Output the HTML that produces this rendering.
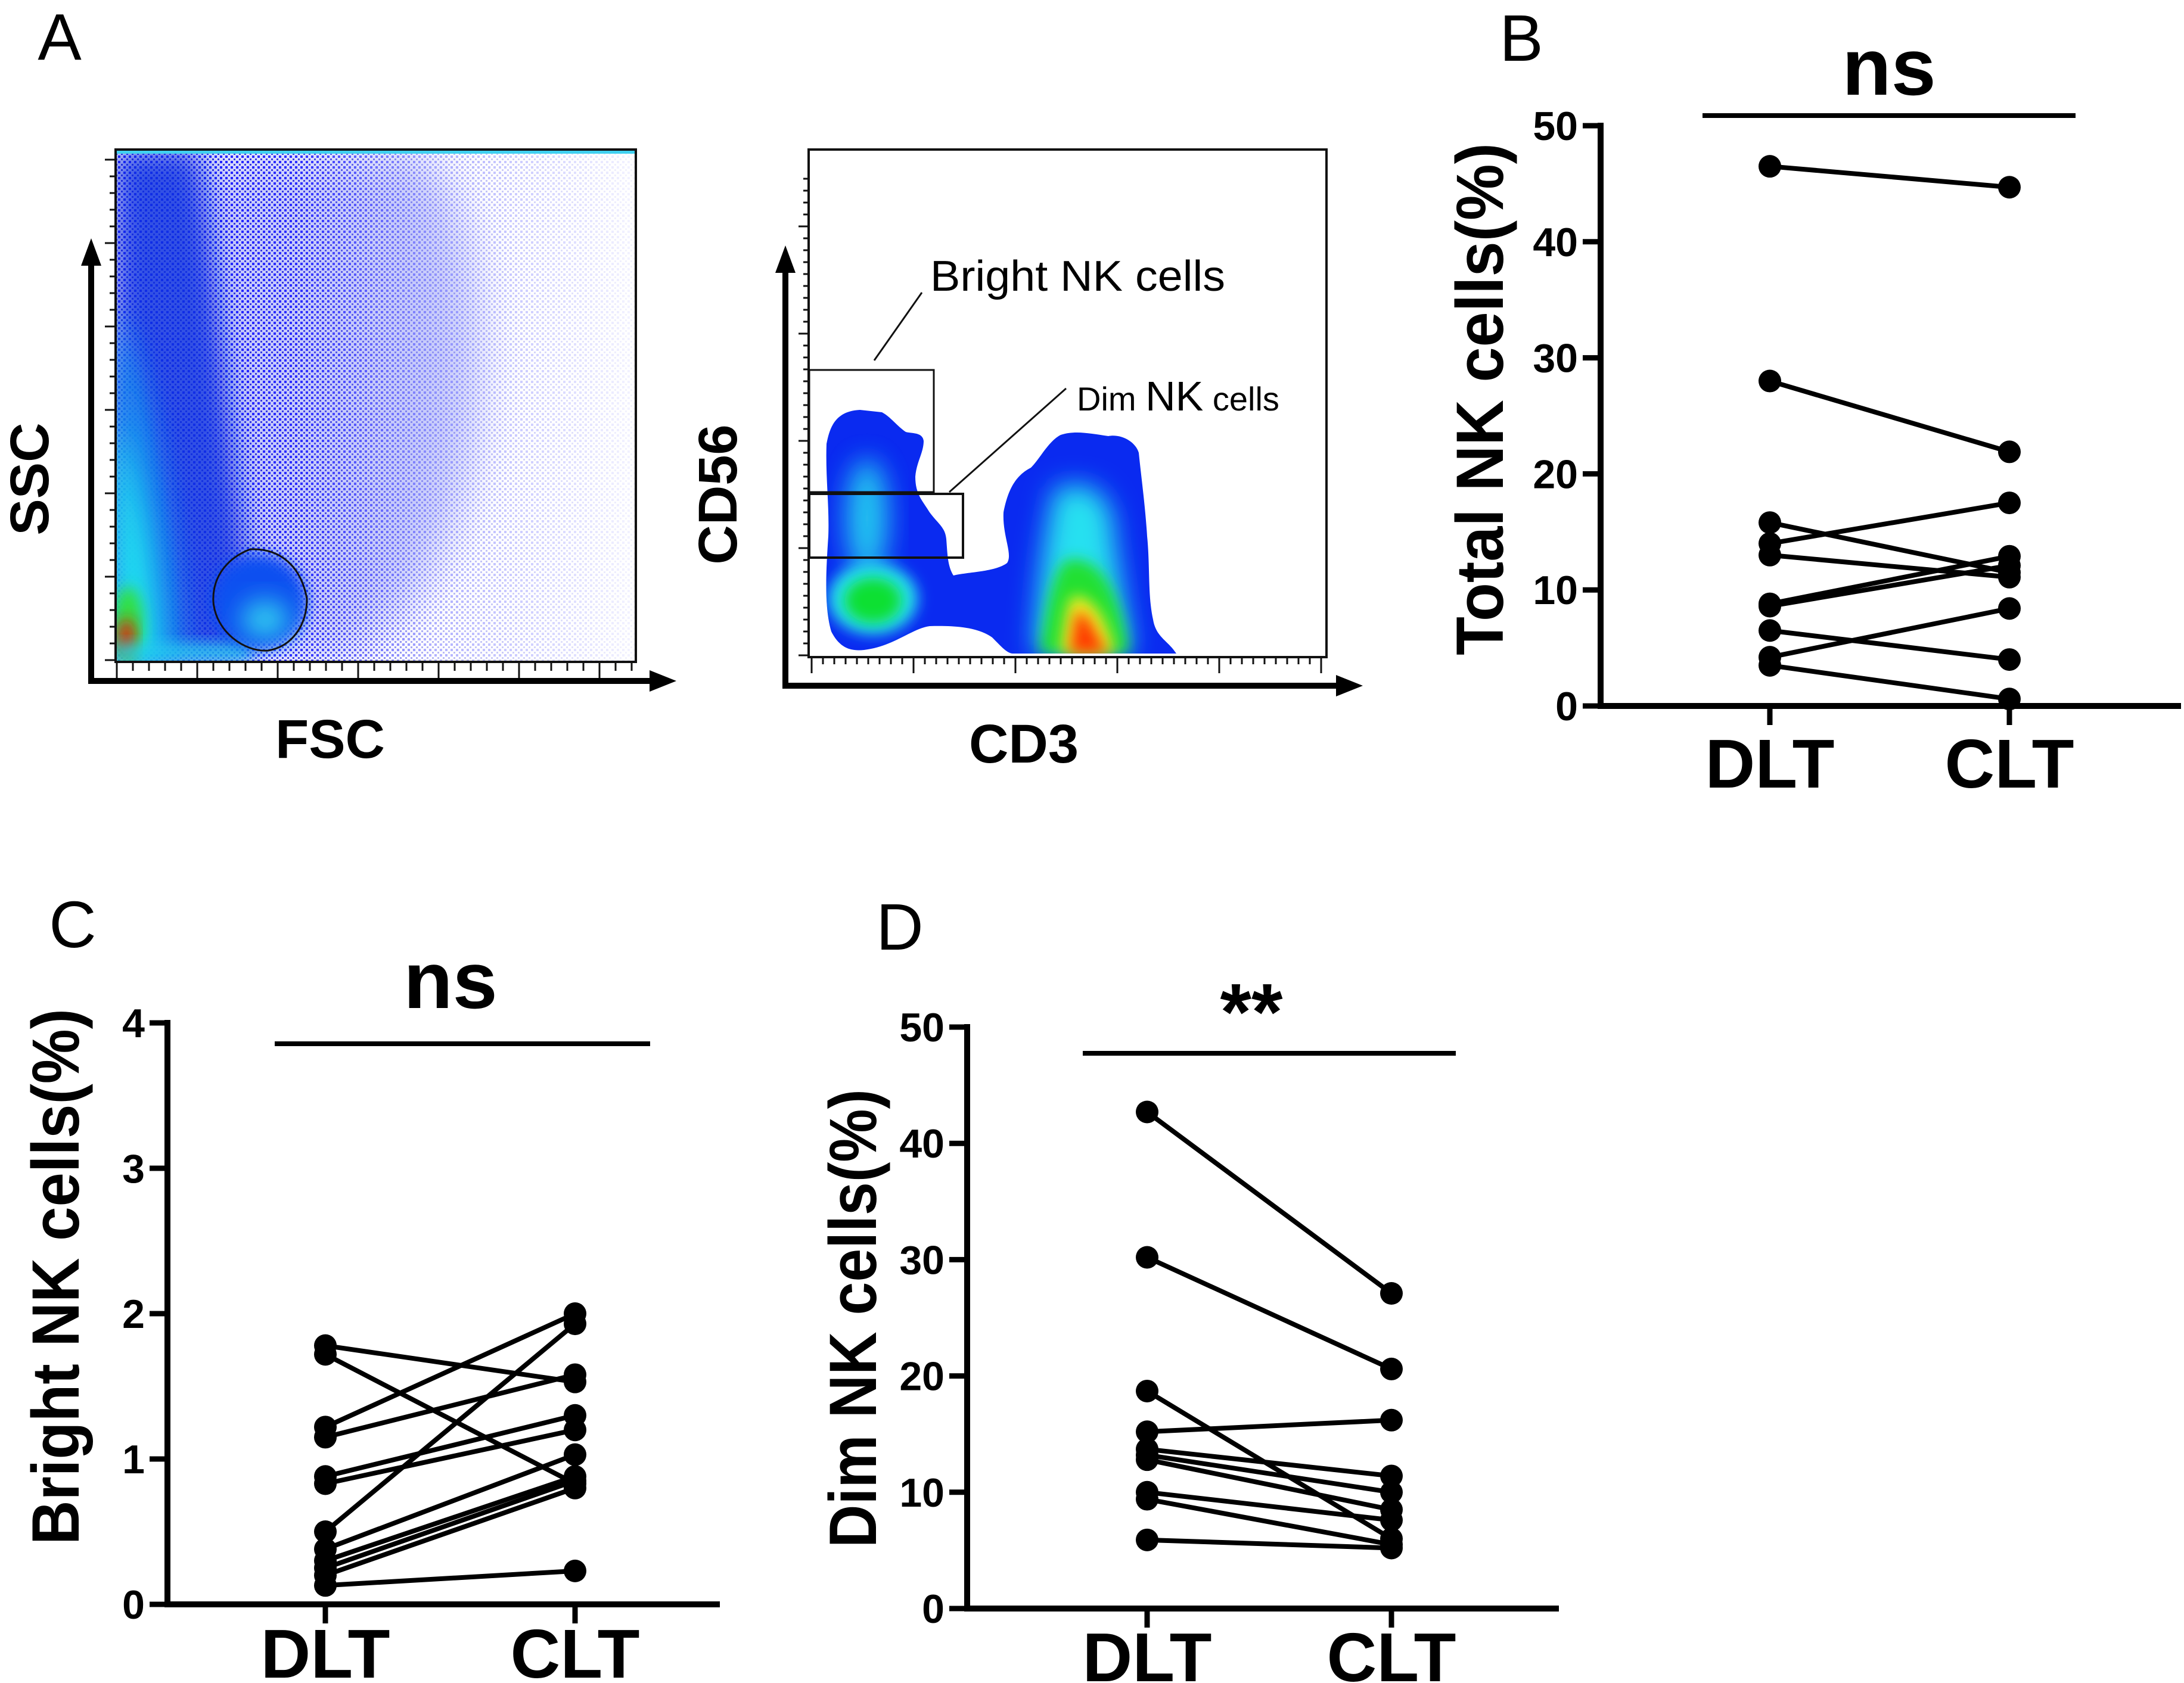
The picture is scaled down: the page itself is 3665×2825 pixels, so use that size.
<!DOCTYPE html>
<html><head><meta charset="utf-8"><style>
html,body{margin:0;padding:0;background:#fff;}
svg{display:block;font-family:"Liberation Sans",Arial,sans-serif;}
</style></head><body>
<svg id="fig" width="3665" height="2825" viewBox="0 0 3665 2825" xmlns="http://www.w3.org/2000/svg">
<defs>
  <filter id="blur20" x="-50%" y="-50%" width="200%" height="200%"><feGaussianBlur stdDeviation="22"/></filter>
  <filter id="blur10" x="-50%" y="-50%" width="200%" height="200%"><feGaussianBlur stdDeviation="12"/></filter>
  <filter id="blur40" x="-50%" y="-50%" width="200%" height="200%"><feGaussianBlur stdDeviation="40"/></filter>
  <pattern id="dots" width="9" height="9" patternUnits="userSpaceOnUse">
    <rect x="0" y="0" width="4" height="4" fill="#1a1aff"/>
    <rect x="5" y="5" width="3" height="3" fill="#2a2ae0"/>
  </pattern>
  <linearGradient id="fadeX" x1="0" y1="0" x2="1" y2="0">
    <stop offset="0" stop-color="#fff" stop-opacity="1"/>
    <stop offset="0.35" stop-color="#fff" stop-opacity="0.9"/>
    <stop offset="0.6" stop-color="#fff" stop-opacity="0.35"/>
    <stop offset="1" stop-color="#fff" stop-opacity="0.05"/>
  </linearGradient>
  <mask id="scatterMask">
    <rect x="194" y="250" width="874" height="862" fill="url(#fadeX)"/>
  </mask>
  <clipPath id="box1clip"><rect x="194" y="252" width="872" height="858"/></clipPath>
  <clipPath id="blobClip">
    <path d="M1443 688 C1400 690 1392 720 1387 745 C1385 800 1392 850 1390 900 C1386 960 1383 1020 1395 1060 C1410 1090 1430 1093 1450 1091 C1500 1085 1530 1055 1560 1051 C1600 1050 1640 1052 1665 1070 C1680 1085 1690 1097 1700 1097 L1974 1097 C1960 1075 1940 1070 1935 1040 C1926 1000 1930 950 1925 900 C1922 850 1915 800 1911 760 C1905 740 1880 728 1860 732 C1830 728 1805 722 1780 730 C1760 740 1745 770 1730 785 C1700 800 1690 830 1684 860 C1682 900 1700 930 1690 945 C1670 960 1625 960 1600 966 C1590 950 1590 930 1588 905 C1586 885 1575 880 1560 860 C1548 840 1536 830 1536 800 C1538 775 1550 760 1550 740 C1548 725 1530 728 1520 725 C1505 715 1495 700 1480 692 Z"/>
  </clipPath>
</defs>

<g>
  <text x="100" y="100" font-size="110" text-anchor="middle">A</text>

  <g>
    <g clip-path="url(#box1clip)">
      <path d="M194 252 L700 252 C780 300 820 500 800 700 C780 900 700 1050 560 1110 L194 1110 Z" fill="#2030f0" opacity="0.25" filter="url(#blur40)"/>
      <rect x="194" y="252" width="874" height="858" fill="url(#dots)" mask="url(#scatterMask)"/>
      <path d="M194 252 L330 252 C360 400 380 700 420 1000 L420 1110 L194 1110 Z" fill="#1030e0" opacity="0.8" filter="url(#blur20)"/>
      <path d="M194 520 C240 600 280 800 300 1000 L310 1110 L194 1110 Z" fill="#1890f0" opacity="0.9" filter="url(#blur20)"/>
      <path d="M194 700 C230 800 260 950 265 1110 L194 1110 Z" fill="#20e8f0" opacity="0.95" filter="url(#blur20)"/>
      <ellipse cx="215" cy="1050" rx="25" ry="65" fill="#30e040" filter="url(#blur10)"/>
      <ellipse cx="212" cy="1070" rx="14" ry="32" fill="#e02010" filter="url(#blur10)"/>
      <path d="M194 1080 L420 1080 L420 1110 L194 1110 Z" fill="#20d0f0" opacity="0.8" filter="url(#blur10)"/>
      <rect x="194" y="252" width="874" height="6" fill="#40d0f0"/>
      <ellipse cx="435" cy="1010" rx="80" ry="80" fill="#1050f0" filter="url(#blur10)"/>
      <ellipse cx="445" cy="1040" rx="40" ry="32" fill="#30d0f0" filter="url(#blur20)"/>
      <path d="M358 1010 C356 965 385 935 420 922 C470 920 505 950 515 1005 C515 1050 490 1085 450 1092 C410 1095 362 1060 358 1010 Z" fill="none" stroke="#111" stroke-width="3"/>
    </g>
    <rect x="194" y="251" width="873" height="860" fill="none" stroke="#111" stroke-width="4"/>
    <g id="ticks1" stroke="#111" stroke-width="3"></g>
    <line x1="153" y1="1143" x2="153" y2="440" stroke="#000" stroke-width="10"/>
    <polygon points="153,400 136,446 170,446" fill="#000"/>
    <line x1="148" y1="1143" x2="1100" y2="1143" stroke="#000" stroke-width="10"/>
    <polygon points="1135,1143 1090,1125 1090,1161" fill="#000"/>
    <text x="554" y="1272" font-size="92" font-weight="bold" text-anchor="middle">FSC</text>
    <text transform="translate(81,804) rotate(-90)" font-size="92" font-weight="bold" text-anchor="middle">SSC</text>
  </g>

  <g>
    <g clip-path="url(#blobClip)">
      <rect x="1380" y="680" width="600" height="420" fill="#0a2af0"/>
      <ellipse cx="1455" cy="870" rx="35" ry="100" fill="#28d8f0" opacity="0.9" filter="url(#blur20)"/>
      <ellipse cx="1465" cy="1005" rx="75" ry="60" fill="#28e0f0" filter="url(#blur10)"/>
      <ellipse cx="1465" cy="1008" rx="48" ry="38" fill="#10e030" filter="url(#blur10)"/>
      <path d="M1770 820 C1830 800 1870 830 1870 900 L1900 1097 L1735 1097 C1740 1000 1750 900 1770 820 Z" fill="#28e0f0" filter="url(#blur20)"/>
      <path d="M1790 940 C1850 930 1880 1000 1895 1097 L1745 1097 C1755 1030 1765 960 1790 940 Z" fill="#20e030" filter="url(#blur10)"/>
      <path d="M1800 1000 C1840 1000 1860 1050 1870 1097 L1780 1097 C1785 1050 1790 1015 1800 1000 Z" fill="#f0f020" filter="url(#blur10)"/>
      <path d="M1808 1025 C1830 1030 1840 1070 1860 1097 L1795 1097 C1800 1070 1802 1040 1808 1025 Z" fill="#ff3a00" filter="url(#blur10)"/>
    </g>
    <rect x="1357" y="251" width="869" height="852" fill="none" stroke="#111" stroke-width="4"/>
    <g id="ticks2" stroke="#111" stroke-width="3"></g>
    <rect x="1358" y="621" width="209" height="205" fill="none" stroke="#111" stroke-width="3"/>
    <rect x="1358" y="829" width="258" height="107" fill="none" stroke="#111" stroke-width="4"/>
    <line x1="1547" y1="491" x2="1467" y2="605" stroke="#111" stroke-width="3"/>
    <line x1="1789" y1="652" x2="1593" y2="826" stroke="#111" stroke-width="3"/>
    <text x="1561" y="488" font-size="72" textLength="495" lengthAdjust="spacingAndGlyphs">Bright NK cells</text>
    <text x="1807" y="689"><tspan font-size="56">Dim </tspan><tspan font-size="70">NK</tspan><tspan font-size="56"> cells</tspan></text>
    <line x1="1318" y1="1151" x2="1318" y2="450" stroke="#000" stroke-width="10"/>
    <polygon points="1318,412 1301,458 1335,458" fill="#000"/>
    <line x1="1313" y1="1151" x2="2250" y2="1151" stroke="#000" stroke-width="10"/>
    <polygon points="2287,1151 2242,1133 2242,1169" fill="#000"/>
    <text x="1718" y="1280" font-size="92" font-weight="bold" text-anchor="middle">CD3</text>
    <text transform="translate(1236,830) rotate(-90)" font-size="92" font-weight="bold" text-anchor="middle">CD56</text>
  </g>
</g>

<g id="panelB"></g>
<g id="panelC"></g>
<g id="panelD"></g>
</svg>

<script>
// ---- Panel B: Total NK cells ----
const categories = ["DLT", "CLT"];
const totalDLT = [46.5, 28.0, 15.8, 14.0, 13.0, 8.8, 8.6, 6.5, 4.2, 3.5];
const totalCLT = [44.7, 21.9, 11.5, 17.5, 11.1, 12.9, 12.1, 4.0, 8.4, 0.6];
const totalTicks = [0, 10, 20, 30, 40, 50];
// ---- Panel C: Bright NK cells ----
const brightDLT = [1.78, 1.72, 1.22, 1.15, 0.88, 0.83, 0.50, 0.38, 0.30, 0.25, 0.20, 0.13];
const brightCLT = [1.53, 0.83, 2.00, 1.58, 1.30, 1.20, 1.93, 1.03, 0.88, 0.85, 0.80, 0.23];
const brightTicks = [0, 1, 2, 3, 4];
// ---- Panel D: Dim NK cells ----
const dimDLT = [42.7, 30.2, 18.7, 15.2, 13.7, 13.2, 12.8, 10.0, 9.4, 5.9];
const dimCLT = [27.1, 20.6, 6.0, 16.2, 11.4, 10.0, 8.5, 7.6, 5.5, 5.2];
const dimTicks = [0, 10, 20, 30, 40, 50];

const NS = "http://www.w3.org/2000/svg";
function mk(tag, attrs, parent) {
  const e = document.createElementNS(NS, tag);
  for (const k in attrs) e.setAttribute(k, attrs[k]);
  parent.appendChild(e);
  return e;
}

(function () {
  const t1 = document.getElementById("ticks1");
  for (let i = 0; i <= 32; i++) {
    const x = 196 + i * 27;
    const big = i % 5 === 0;
    const l = mk("line", { x1: x, y1: 1112, x2: x, y2: big ? 1138 : 1126 }, t1);
    
    
  }
  for (let i = 0; i <= 30; i++) {
    const y = 1108 - i * 28;
    const big = i % 5 === 0;
    const l = mk("line", { x1: big ? 176 : 184, y1: y, x2: 194, y2: y }, t1);
    
    
  }
  const t2 = document.getElementById("ticks2");
  for (let i = 0; i <= 45; i++) {
    const x = 1362 + i * 19;
    const big = i % 9 === 0;
    const l = mk("line", { x1: x, y1: 1103, x2: x, y2: big ? 1130 : 1115 }, t2);
    
    
  }
  for (let i = 0; i <= 40; i++) {
    const y = 1100 - i * 20;
    const big = i % 9 === 0;
    const l = mk("line", { x1: big ? 1340 : 1348, y1: y, x2: 1357, y2: y }, t2);
    
    
  }
})();

function drawPanel(g, cfg, dlt, clt, ticks) {
  const ymax = ticks[ticks.length - 1];
  const yScale = v => cfg.y0 - (v / ymax) * (cfg.y0 - cfg.yTop);
  const xs = [cfg.xDLT, cfg.xCLT];
  const xScale = i => xs[i];

  const letter = mk("text", { x: cfg.letterX, y: cfg.letterY, "font-size": 110, "text-anchor": "middle" }, g);
  letter.textContent = cfg.letter;
  
  

  const ya = mk("line", { x1: cfg.ax, y1: cfg.yTop - 5, x2: cfg.ax, y2: cfg.y0 + 5, stroke: "#000", "stroke-width": 10 }, g);
  
  
  const xa = mk("line", { x1: cfg.ax - 5, y1: cfg.y0, x2: cfg.xEnd, y2: cfg.y0, stroke: "#000", "stroke-width": 10 }, g);
  
  

  ticks.forEach(t => {
    const y = yScale(t);
    const tl = mk("line", { x1: cfg.ax - 30, y1: y, x2: cfg.ax, y2: y, stroke: "#000", "stroke-width": 9 }, g);
    
    
    const tx = mk("text", { x: cfg.ax - 38, y: y + 24, "font-size": 68, "font-weight": "bold", "text-anchor": "end" }, g);
    tx.textContent = t;
    
    
  });

  categories.forEach((c, i) => {
    const x = xScale(i);
    const tl = mk("line", { x1: x, y1: cfg.y0, x2: x, y2: cfg.y0 + 32, stroke: "#000", "stroke-width": 9 }, g);
    
    
    const tx = mk("text", { x: x, y: cfg.catY, "font-size": 116, "font-weight": "bold", "text-anchor": "middle" }, g);
    tx.textContent = c;
    
    
  });

  const yt = mk("text", { transform: `translate(${cfg.titleX},${cfg.titleY}) rotate(-90)`, "font-size": 112, "font-weight": "bold", "text-anchor": "middle", textLength: cfg.titleLen, lengthAdjust: "spacingAndGlyphs" }, g);
  yt.textContent = cfg.title;
  
  

  const sl = mk("line", { x1: cfg.sigX1, y1: cfg.sigY, x2: cfg.sigX2, y2: cfg.sigY, stroke: "#000", "stroke-width": 8 }, g);
  
  
  const st = mk("text", { x: (cfg.sigX1 + cfg.sigX2) / 2 + cfg.sigDx, y: cfg.sigTextY, "font-size": cfg.sigSize, "font-weight": "bold", "text-anchor": "middle" }, g);
  st.textContent = cfg.sig;
  
  

  dlt.forEach((v, i) => {
    const ln = mk("line", { x1: xScale(0), y1: yScale(v), x2: xScale(1), y2: yScale(clt[i]), stroke: "#000", "stroke-width": 8 }, g);
    
    
  });
  dlt.forEach((v, i) => {
    const a = mk("circle", { cx: xScale(0), cy: yScale(v), r: 19, fill: "#000" }, g);
    
    
    const b = mk("circle", { cx: xScale(1), cy: yScale(clt[i]), r: 19, fill: "#000" }, g);
    
    
  });
}

drawPanel(document.getElementById("panelB"), {
  letter: "B", letterX: 2553, letterY: 102,
  ax: 2686, y0: 1185, yTop: 211, xDLT: 2970, xCLT: 3372, xEnd: 3660,
  catY: 1322, title: "Total NK cells(%)", titleX: 2522, titleY: 670, titleLen: 860,
  sigX1: 2857, sigX2: 3483, sigY: 194, sig: "ns", sigDx: 0, sigTextY: 159, sigSize: 135
}, totalDLT, totalCLT, totalTicks);

drawPanel(document.getElementById("panelC"), {
  letter: "C", letterX: 122, letterY: 1590,
  ax: 281, y0: 2693, yTop: 1717, xDLT: 546, xCLT: 965, xEnd: 1208,
  catY: 2816, title: "Bright NK cells(%)", titleX: 132, titleY: 2143, titleLen: 900,
  sigX1: 461, sigX2: 1091, sigY: 1752, sig: "ns", sigDx: -20, sigTextY: 1692, sigSize: 135
}, brightDLT, brightCLT, brightTicks);

drawPanel(document.getElementById("panelD"), {
  letter: "D", letterX: 1510, letterY: 1594,
  ax: 1623, y0: 2700, yTop: 1724, xDLT: 1925, xCLT: 2335, xEnd: 2616,
  catY: 2822, title: "Dim NK cells(%)", titleX: 1470, titleY: 2213, titleLen: 770,
  sigX1: 1817, sigX2: 2443, sigY: 1768, sig: "**", sigDx: -30, sigTextY: 1745, sigSize: 135
}, dimDLT, dimCLT, dimTicks);
</script>
</body></html>
